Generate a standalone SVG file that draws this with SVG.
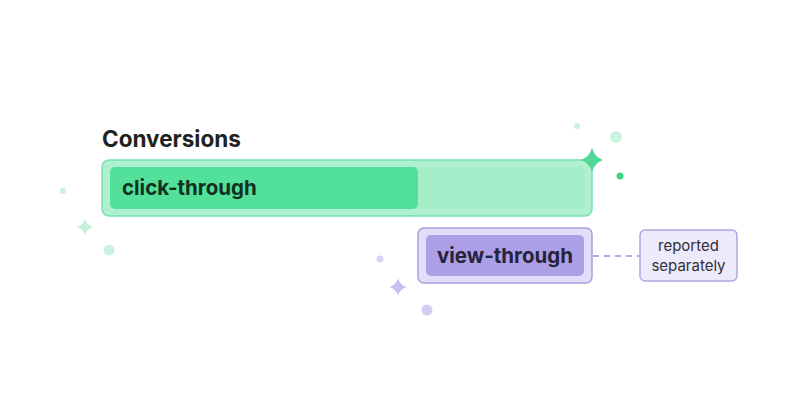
<svg xmlns="http://www.w3.org/2000/svg" width="800" height="420" viewBox="0 0 800 420">
<defs>
<style>
.title{font-family:"Inter","Liberation Sans",sans-serif;font-weight:700;font-size:22.5px;fill:#1f2320}
.lbl{font-family:"Inter","Liberation Sans",sans-serif;font-weight:700;font-size:20.5px}
.note{font-family:"Inter","Liberation Sans",sans-serif;font-size:15px;fill:#2f2f38;text-anchor:middle}
</style>
<path id="star" d="M0,-1 Q0.24,-0.24 1,0 Q0.24,0.24 0,1 Q-0.24,0.24 -1,0 Q-0.24,-0.24 0,-1 Z"/>
</defs>
<rect width="800" height="420" fill="#ffffff"/>

<g id="decorations">
<circle cx="577" cy="126" r="3" fill="#c9f3de"/>
<circle cx="616" cy="137" r="6" fill="#c9f3de"/>
<circle cx="620" cy="176" r="3.5" fill="#3fd68b"/>
<circle cx="63" cy="191" r="3" fill="#c9f3de"/>
<use href="#star" transform="translate(85 227) scale(8)" fill="#c2f1da"/>
<circle cx="109" cy="250" r="5.5" fill="#c9f3de"/>
<circle cx="380" cy="259" r="3.5" fill="#d8d2f4"/>
<use href="#star" transform="translate(398 287) scale(8.5)" fill="#c7bff0"/>
<circle cx="427" cy="310" r="5.5" fill="#d3ccf3"/>
</g>

<g id="conversions">
<text class="title" x="102" y="147">Conversions</text>
<rect x="102" y="160" width="490" height="56" rx="7" fill="#aef0cf" stroke="#7be0ad" stroke-width="1.5"/>
<rect x="110" y="167" width="475" height="42" rx="5" fill="#a4eeca"/>
<use href="#star" transform="translate(592 160) scale(11 12)" fill="#4fd995"/>
</g>

<g id="click-through">
<rect x="110" y="167" width="308" height="42" rx="5" fill="#52e09b"/>
<text class="lbl" x="122" y="195" fill="#12301f">click-through</text>
</g>

<g id="view-through">
<rect x="418" y="228" width="174" height="55" rx="6" fill="#e2ddf8" stroke="#ab9fe0" stroke-width="1.5"/>
<rect x="426" y="235" width="158" height="41" rx="5" fill="#ac9fe6"/>
<text class="lbl" x="505" y="263" fill="#26233a" text-anchor="middle">view-through</text>
</g>

<g id="connectors">
<line x1="593" y1="256" x2="640" y2="256" stroke="#b3a9e2" stroke-width="2" stroke-dasharray="6 5"/>
</g>

<g id="reported-separately">
<rect x="640" y="230" width="97" height="51" rx="5" fill="#eceafb" stroke="#b1a7e4" stroke-width="1.5"/>
<text class="note" x="688.5" y="251">reported</text>
<text class="note" x="688.5" y="271">separately</text>
</g>
</svg>
